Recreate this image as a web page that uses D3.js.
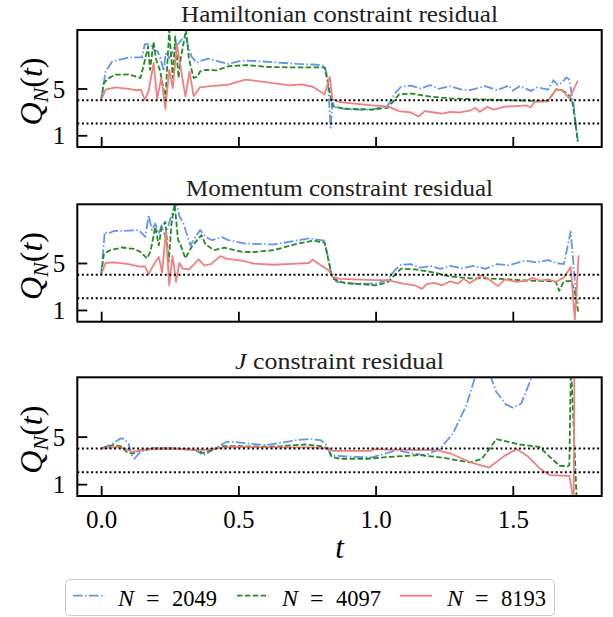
<!DOCTYPE html>
<html><head><meta charset="utf-8">
<script src="https://cdn.jsdelivr.net/npm/d3@7"></script>
<style>body{margin:0;background:#fff}</style>
</head><body><svg id="c" width="613" height="617"></svg>
<script>
// ---------------- data ----------------
const seriesLabels = ["2049", "4097", "8193"];
const panelTitles = ["Hamiltonian constraint residual", "Momentum constraint residual", "J constraint residual"];
const xTickValues = [0.0, 0.5, 1.0, 1.5];
const yTickValues = [1, 5];
const refLevels = [4, 2];

const ham2049 = [[0,4.0],[0.016,6.45],[0.04,7.3],[0.1,7.65],[0.149,7.67],[0.159,8.8],[0.18,8.75],[0.191,8.3],[0.205,8.2],[0.216,7.6],[0.228,6.5],[0.235,8.0],[0.248,7.6],[0.27,8.5],[0.287,9.0],[0.307,9.5],[0.32,8.4],[0.33,7.7],[0.349,7.2],[0.36,7.35],[0.391,7.55],[0.43,7.3],[0.464,7.1],[0.513,7.4],[0.56,7.35],[0.629,7.25],[0.714,7.1],[0.771,7.05],[0.814,6.96],[0.826,5.8],[0.836,1.65],[0.843,3.8],[0.857,3.35],[0.914,3.2],[0.986,3.2],[1.043,3.5],[1.071,4.6],[1.093,5.15],[1.129,5.25],[1.164,5.0],[1.2,5.3],[1.229,4.97],[1.271,5.2],[1.314,4.9],[1.343,4.86],[1.4,5.2],[1.443,4.86],[1.486,5.25],[1.5,4.8],[1.525,5.2],[1.567,4.8],[1.59,5.1],[1.628,4.9],[1.648,5.7],[1.664,5.3],[1.68,5.5],[1.695,5.95],[1.705,5.8],[1.712,4.87],[1.721,3.73],[1.728,2.3],[1.737,0.5]];
const ham4097 = [[0,4.0],[0.01,5.47],[0.028,5.9],[0.052,6.18],[0.1,6.2],[0.143,5.9],[0.155,7.0],[0.171,8.6],[0.178,6.6],[0.191,9.0],[0.2,7.5],[0.215,6.5],[0.234,4.04],[0.248,10.0],[0.261,5.9],[0.27,9.46],[0.282,5.9],[0.29,7.6],[0.309,10.0],[0.32,7.5],[0.337,5.9],[0.35,6.0],[0.361,6.47],[0.38,6.6],[0.42,6.55],[0.464,6.9],[0.529,7.0],[0.6,6.85],[0.7,6.8],[0.814,6.8],[0.829,5.2],[0.843,3.5],[0.886,3.27],[0.986,3.2],[1.043,3.35],[1.064,3.9],[1.086,4.5],[1.129,4.57],[1.2,4.3],[1.271,4.15],[1.343,4.1],[1.414,4.05],[1.486,4.0],[1.571,3.95],[1.628,3.95],[1.658,4.93],[1.68,4.85],[1.7,4.53],[1.716,4.0],[1.725,2.6],[1.737,0.45]];
const ham8193 = [[0,4.0],[0.016,4.9],[0.052,5.1],[0.1,4.96],[0.13,4.85],[0.145,4.9],[0.159,4.04],[0.173,4.76],[0.191,7.18],[0.204,4.13],[0.219,5.9],[0.234,3.27],[0.248,6.6],[0.261,5.04],[0.276,8.75],[0.292,6.47],[0.307,4.33],[0.322,6.47],[0.337,4.33],[0.36,5.1],[0.391,5.19],[0.464,5.33],[0.525,5.75],[0.55,5.7],[0.6,5.55],[0.686,5.26],[0.73,5.35],[0.771,5.15],[0.814,4.5],[0.833,6.0],[0.843,4.06],[0.871,3.84],[0.986,3.55],[1.03,3.5],[1.057,3.35],[1.086,3.07],[1.129,2.95],[1.157,2.6],[1.179,3.07],[1.214,2.95],[1.243,2.85],[1.271,3.0],[1.307,2.95],[1.343,3.1],[1.364,3.35],[1.379,3.0],[1.407,3.44],[1.43,3.2],[1.471,3.45],[1.514,3.5],[1.55,3.55],[1.565,3.4],[1.58,3.85],[1.628,3.9],[1.658,4.93],[1.68,4.85],[1.706,4.16],[1.718,4.73],[1.737,5.67]];

const mom2049 = [[0,4.0],[0.013,7.65],[0.025,7.5],[0.046,7.73],[0.1,7.75],[0.137,7.8],[0.161,7.22],[0.173,9.07],[0.185,7.8],[0.197,8.36],[0.21,7.5],[0.22,8.2],[0.234,7.22],[0.25,8.6],[0.268,9.9],[0.275,10.0],[0.285,9.0],[0.3,8.36],[0.325,6.5],[0.343,7.2],[0.361,7.8],[0.382,7.2],[0.404,6.94],[0.44,7.2],[0.464,6.94],[0.525,6.66],[0.557,6.63],[0.629,6.58],[0.7,6.86],[0.757,7.1],[0.814,6.9],[0.836,4.38],[0.857,3.4],[0.914,3.25],[1.0,3.25],[1.043,3.55],[1.071,4.4],[1.093,4.86],[1.129,4.9],[1.164,4.6],[1.2,4.75],[1.236,4.5],[1.271,4.75],[1.314,4.55],[1.357,4.75],[1.4,4.5],[1.443,4.9],[1.486,4.8],[1.543,5.2],[1.586,5.05],[1.629,5.25],[1.657,5.0],[1.686,4.9],[1.711,7.68],[1.72,5.2],[1.729,2.6],[1.74,1.56]];
const mom4097 = [[0,4.0],[0.01,5.8],[0.034,6.1],[0.076,6.32],[0.12,6.2],[0.143,5.95],[0.167,5.39],[0.18,6.0],[0.197,8.07],[0.21,6.5],[0.22,8.0],[0.234,8.5],[0.246,5.1],[0.256,8.3],[0.268,10.0],[0.28,7.0],[0.29,6.5],[0.307,5.39],[0.33,6.4],[0.365,7.37],[0.38,6.6],[0.41,6.1],[0.45,6.3],[0.513,5.95],[0.557,5.93],[0.629,6.1],[0.714,6.63],[0.771,6.9],[0.814,6.75],[0.843,3.68],[0.886,3.3],[1.0,3.1],[1.043,3.35],[1.071,4.0],[1.093,4.52],[1.143,4.45],[1.2,4.25],[1.271,3.85],[1.343,3.7],[1.414,3.68],[1.486,3.6],[1.557,3.5],[1.629,3.45],[1.657,3.4],[1.669,2.63],[1.686,3.45],[1.714,3.45],[1.729,2.2],[1.74,0.66]];
const mom8193 = [[0,4.0],[0.016,5.0],[0.046,5.05],[0.1,4.9],[0.14,4.7],[0.16,4.7],[0.173,4.05],[0.19,4.8],[0.21,5.52],[0.222,4.2],[0.236,7.73],[0.248,3.12],[0.26,5.6],[0.273,3.4],[0.285,5.0],[0.297,4.53],[0.32,4.45],[0.335,4.8],[0.355,5.3],[0.375,4.8],[0.4,4.9],[0.434,5.58],[0.46,5.35],[0.513,5.2],[0.557,4.94],[0.629,4.85],[0.714,4.94],[0.757,5.0],[0.771,5.28],[0.8,4.8],[0.829,4.38],[0.843,3.82],[0.871,3.65],[1.0,3.54],[1.043,3.54],[1.071,3.4],[1.1,3.25],[1.143,3.1],[1.169,2.8],[1.186,3.2],[1.214,3.3],[1.243,3.1],[1.271,3.44],[1.3,3.25],[1.321,3.65],[1.343,3.3],[1.364,3.6],[1.386,3.95],[1.414,3.6],[1.446,3.03],[1.471,3.6],[1.514,3.4],[1.55,3.5],[1.571,3.73],[1.6,3.5],[1.629,3.6],[1.657,3.4],[1.686,3.75],[1.711,4.66],[1.717,3.0],[1.726,0.2],[1.731,2.0],[1.74,5.65]];

const j2049 = [[0,4.0],[0.043,4.43],[0.071,4.86],[0.085,4.8],[0.1,4.4],[0.111,3.43],[0.121,3.14],[0.143,3.71],[0.186,4.0],[0.271,4.0],[0.343,3.9],[0.371,3.43],[0.393,3.7],[0.429,4.2],[0.457,4.57],[0.486,4.55],[0.543,4.4],[0.6,4.29],[0.657,4.5],[0.714,4.71],[0.757,4.8],[0.8,4.7],[0.821,4.3],[0.836,3.43],[0.914,3.3],[0.986,3.25],[1.04,3.6],[1.076,3.87],[1.129,3.6],[1.18,3.45],[1.234,3.95],[1.282,5.27],[1.331,7.65],[1.361,9.9],[1.39,11.5],[1.422,9.9],[1.44,8.76],[1.476,7.7],[1.5,7.45],[1.531,7.79],[1.567,9.9],[1.6,13],[1.65,18],[1.74,25]];
const j4097 = [[0,4.0],[0.043,4.29],[0.071,4.2],[0.093,3.71],[0.114,3.57],[0.143,3.85],[0.186,4.0],[0.271,4.0],[0.343,3.86],[0.371,3.63],[0.4,3.85],[0.443,4.2],[0.5,4.2],[0.6,4.15],[0.657,4.2],[0.743,4.34],[0.8,4.2],[0.829,4.0],[0.84,3.29],[0.871,3.14],[0.971,3.14],[1.057,3.3],[1.161,3.45],[1.243,3.23],[1.343,2.83],[1.386,3.1],[1.416,4.0],[1.44,4.79],[1.525,4.34],[1.597,4.14],[1.629,3.43],[1.67,2.55],[1.7,2.5],[1.706,2.6],[1.712,11],[1.718,8],[1.733,-0.5]];
const j8193 = [[0,4.0],[0.057,4.14],[0.086,4.0],[0.114,3.71],[0.143,3.85],[0.186,4.0],[0.271,4.0],[0.343,3.86],[0.386,3.9],[0.429,4.05],[0.486,4.14],[0.629,4.1],[0.771,4.1],[0.829,4.0],[0.843,3.8],[0.979,3.8],[1.0,3.95],[1.043,3.9],[1.222,3.87],[1.271,3.6],[1.343,2.86],[1.414,2.4],[1.471,3.4],[1.514,3.95],[1.557,3.3],[1.6,2.29],[1.634,1.76],[1.706,1.7],[1.712,0.92],[1.722,-0.5],[1.725,12]];

const panelData = [[ham2049, ham4097, ham8193], [mom2049, mom4097, mom8193], [j2049, j4097, j8193]];

// ---------------- styling / layout ----------------
const colors = ["#6495ED", "#228B22", "#F08080"];
const dashes = ["9.6,2.4,1.5,2.4", "5.5,2.4", null];
const FONT = "'Liberation Serif', 'DejaVu Serif', serif";
const L = 77.3, R = 601.7;
const panels = [{top: 30, bottom: 147}, {top: 204.3, bottom: 321.7}, {top: 377.3, bottom: 496}];
const titleWidths = [317, 307, 209];

const svg = d3.select("#c");
svg.append("rect").attr("width", 613).attr("height", 617).attr("fill", "#fff");
const x = d3.scaleLinear().domain([-0.087, 1.824]).range([L, R]);

panels.forEach((p, i) => {
  const y = d3.scaleLinear().domain([0, 10]).range([p.bottom, p.top]);
  const g = svg.append("g");
  const cid = "clip" + i;
  svg.append("clipPath").attr("id", cid).append("rect")
    .attr("x", L).attr("y", p.top).attr("width", R - L).attr("height", p.bottom - p.top);
  const line = d3.line().x(d => x(d[0])).y(d => y(d[1]));
  const plot = g.append("g").attr("clip-path", `url(#${cid})`);
  panelData[i].forEach((s, k) => {
    plot.append("path").datum(s).attr("d", line)
      .attr("fill", "none").attr("stroke", colors[k]).attr("stroke-width", 1.8)
      .attr("stroke-linejoin", "round")
      .attr("stroke-dasharray", dashes[k]);
  });
  refLevels.forEach(v => {
    plot.append("line").attr("x1", L).attr("x2", R).attr("y1", y(v)).attr("y2", y(v))
      .attr("stroke", "#000").attr("stroke-width", 2).attr("stroke-dasharray", "2,2.6");
  });
  const xa = g.append("g").attr("transform", `translate(0,${p.bottom})`)
    .call(d3.axisBottom(x).tickValues(xTickValues).tickSize(-10).tickPadding(14)
      .tickFormat(i === 2 ? d3.format(".1f") : () => ""));
  const ya = g.append("g").attr("transform", `translate(${L},0)`)
    .call(d3.axisLeft(y).tickValues(yTickValues).tickSize(-10).tickPadding(12).tickFormat(d3.format("d")));
  [xa, ya].forEach(a => {
    a.select(".domain").remove();
    a.selectAll(".tick line").attr("stroke", "#000").attr("stroke-width", 1.8);
    a.selectAll("text").attr("font-family", FONT).attr("font-size", 25).attr("fill", "#000");
  });
  xa.selectAll("text").attr("dy", null).attr("y", 32);
  ya.selectAll("text").attr("dy", "0.34em");
  g.append("rect").attr("x", L).attr("y", p.top).attr("width", R - L).attr("height", p.bottom - p.top)
    .attr("fill", "none").attr("stroke", "#000").attr("stroke-width", 2);

  // title
  const t = g.append("text").attr("x", (L + R) / 2).attr("y", p.top - 8)
    .attr("text-anchor", "middle").attr("font-family", FONT).attr("font-size", 23).attr("fill", "#222")
    .attr("textLength", titleWidths[i]).attr("lengthAdjust", "spacingAndGlyphs");
  if (i === 2) {
    t.append("tspan").attr("font-style", "italic").text("J");
    t.append("tspan").text(panelTitles[i].slice(1));
  } else {
    t.text(panelTitles[i]);
  }
  // y label
  const yl = g.append("text")
    .attr("transform", `translate(42,${(p.top + p.bottom) / 2 + 3}) rotate(-90)`)
    .attr("text-anchor", "middle").attr("font-family", FONT).attr("font-size", 32).attr("fill", "#000");
  yl.append("tspan").attr("font-style", "italic").text("Q");
  yl.append("tspan").attr("font-style", "italic").attr("font-size", 22).attr("dy", 6).text("N");
  yl.append("tspan").attr("dy", -6).text("(");
  yl.append("tspan").attr("font-style", "italic").text("t");
  yl.append("tspan").text(")");
});

// x label
svg.append("text").attr("x", (L + R) / 2).attr("y", 558).attr("text-anchor", "middle")
  .attr("font-family", FONT).attr("font-size", 31).attr("font-style", "italic").text("t");

// legend
const lg = svg.append("g");
lg.append("rect").attr("x", 65.5).attr("y", 579.5).attr("width", 489).attr("height", 36).attr("rx", 4)
  .attr("fill", "#fff").attr("stroke", "#cccccc").attr("stroke-width", 1);
const legX = [73, 237, 400];
seriesLabels.forEach((lab, k) => {
  lg.append("line").attr("x1", legX[k]).attr("x2", legX[k] + 32).attr("y1", 595.7).attr("y2", 595.7)
    .attr("stroke", colors[k]).attr("stroke-width", 1.8).attr("stroke-dasharray", dashes[k]);
  const tx0 = legX[k] + 45 + (k === 2 ? 2 : 0);
  const tg = lg.append("g").attr("font-family", FONT).attr("font-size", 24).attr("fill", "#000");
  tg.append("text").attr("x", tx0).attr("y", 606).attr("font-style", "italic").text("N");
  tg.append("text").attr("x", tx0 + 28).attr("y", 606).text("=");
  tg.append("text").attr("x", tx0 + 54).attr("y", 606)
    .attr("textLength", 45).attr("lengthAdjust", "spacingAndGlyphs").text(lab);
});
</script></body></html>
